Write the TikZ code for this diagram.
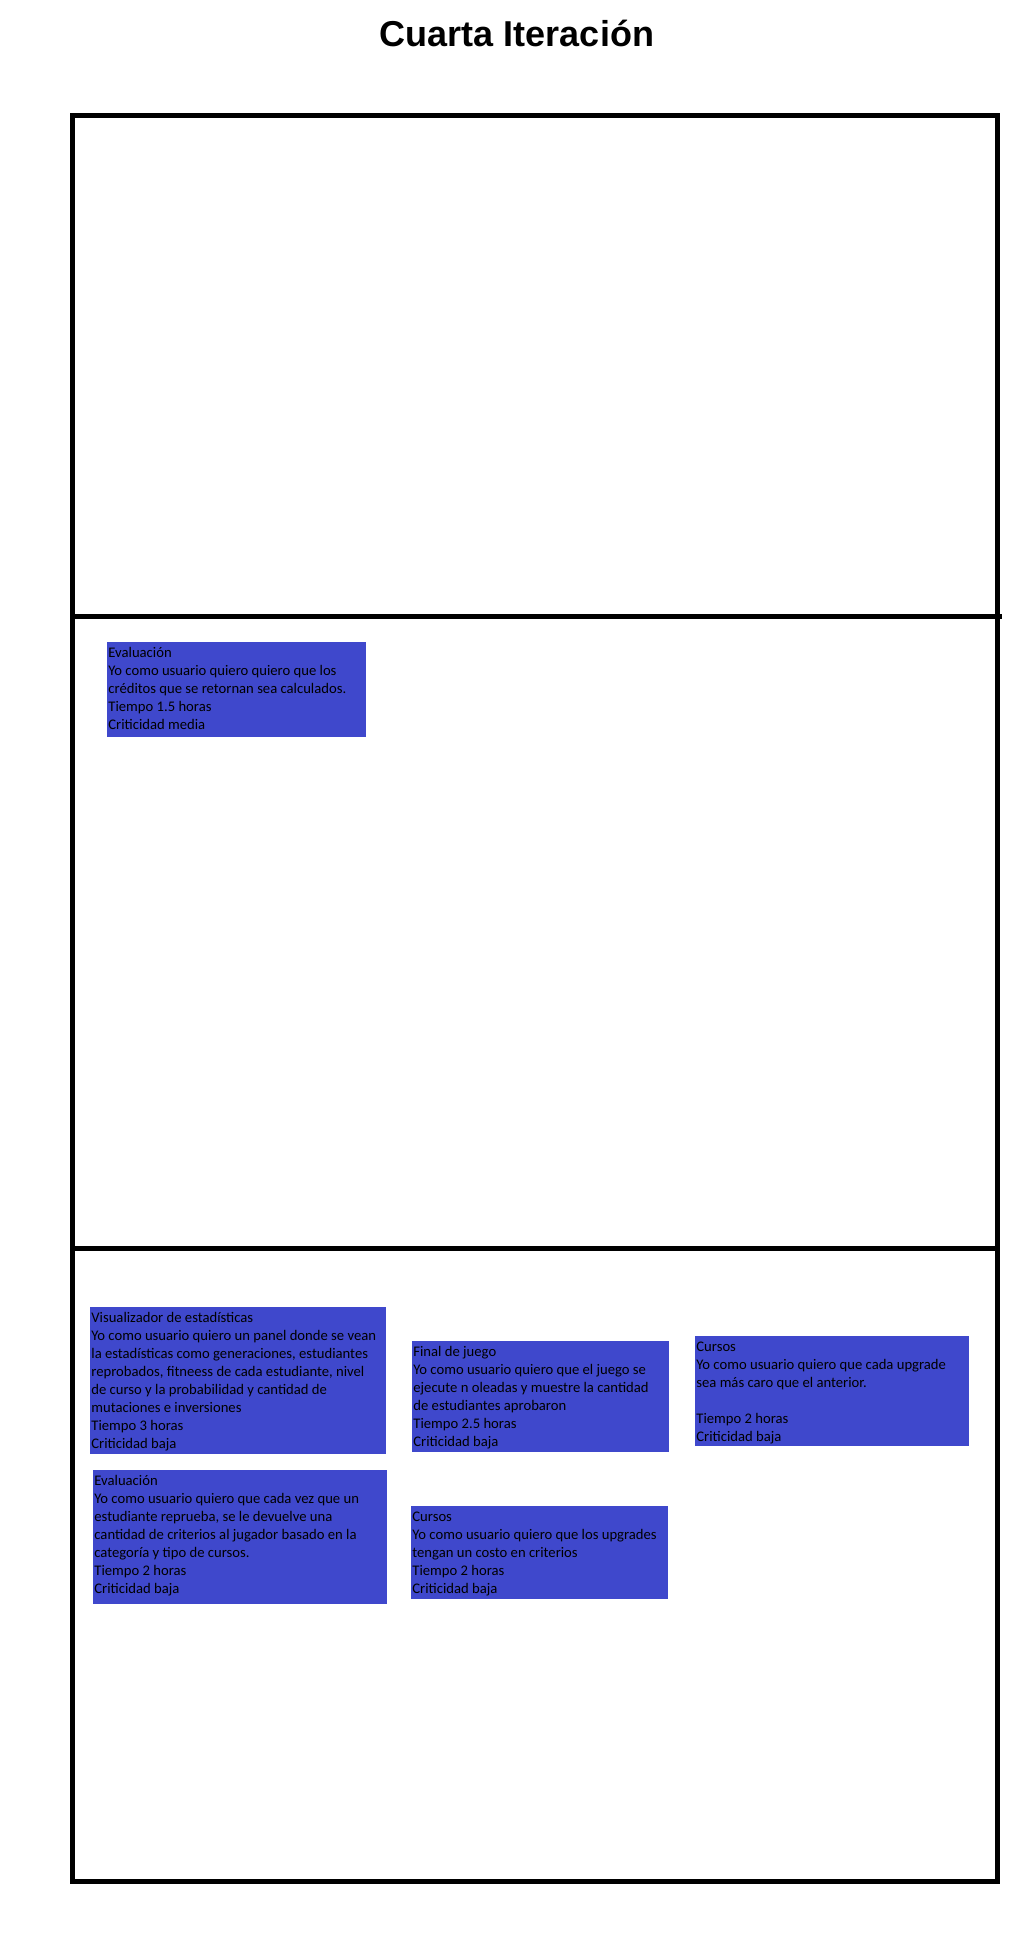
\documentclass[tikz,border=0pt]{standalone}
\usepackage{fontspec}
\usepackage{tikz}
\usetikzlibrary{positioning}
\newfontfamily\cardfont{Carlito}
\newfontfamily\titlefont{Liberation Sans}
\definecolor{cardblue}{RGB}{63,72,204}
\tikzset{
  frame/.style={draw=black, line width=2.5pt},
  story/.style={fill=cardblue, anchor=north west, inner xsep=0.5pt, inner ysep=0pt,
                font=\cardfont\fontsize{7.33pt}{9pt}\selectfont, text=black},
  titlenode/.style={font=\titlefont\bfseries\fontsize{18pt}{22pt}\selectfont, anchor=base},
}
% top-aligned text block of a card: width, height, lines
\newcommand{\cardtext}[3]{\parbox[t][#2][t]{#1}{\raggedright\rule{0pt}{7.7pt}#3}}

\begin{document}
\begin{tikzpicture}[x=0.5pt, y=-0.5pt]
  \useasboundingbox (0,0) rectangle (1033,1941);

  %% Title
  \node[titlenode] (title) at (517,47) {Cuarta Iteración};

  %% Board with three lanes
  \draw[frame] (72,116) rectangle (997,1881);
  \draw[frame] (72,616) -- (1002,616);
  \draw[frame] (72,1248) -- (997,1248);

  %% Middle lane
  \node[story] (eval1) at (107,642)
    {\cardtext{128.5pt}{47.5pt}{Evaluación\\Yo como usuario quiero quiero que los\\créditos que se retornan sea calculados.\\Tiempo 1.5 horas\\Criticidad media}};

  %% Bottom lane
  \node[story] (stats) at (90,1307)
    {\cardtext{147pt}{73.5pt}{Visualizador de estadísticas\\Yo como usuario quiero un panel donde se vean\\la estadísticas como generaciones, estudiantes\\reprobados, fitneess de cada estudiante, nivel\\de curso y la probabilidad y cantidad de\\mutaciones e inversiones\\Tiempo 3 horas\\Criticidad baja}};

  \node[story] (eval2) at (93,1470)
    {\cardtext{146pt}{67pt}{Evaluación\\Yo como usuario quiero que cada vez que un\\estudiante reprueba, se le devuelve una\\cantidad de criterios al jugador basado en la\\categoría y tipo de cursos.\\Tiempo 2 horas\\Criticidad baja}};

  \node[story] (final) at (412,1341)
    {\cardtext{127.5pt}{55.5pt}{Final de juego\\Yo como usuario quiero que el juego se\\ejecute n oleadas y muestre la cantidad\\de estudiantes aprobaron\\Tiempo 2.5 horas\\Criticidad baja}};

  \node[story] (cursos1) at (411,1506)
    {\cardtext{127.5pt}{46.5pt}{Cursos\\Yo como usuario quiero que los upgrades\\tengan un costo en criterios\\Tiempo 2 horas\\Criticidad baja}};

  \node[story] (cursos2) at (695,1336)
    {\cardtext{136pt}{55pt}{Cursos\\Yo como usuario quiero que cada upgrade\\sea más caro que el anterior.\\\mbox{}\\Tiempo 2 horas\\Criticidad baja}};

\end{tikzpicture}
\end{document}
